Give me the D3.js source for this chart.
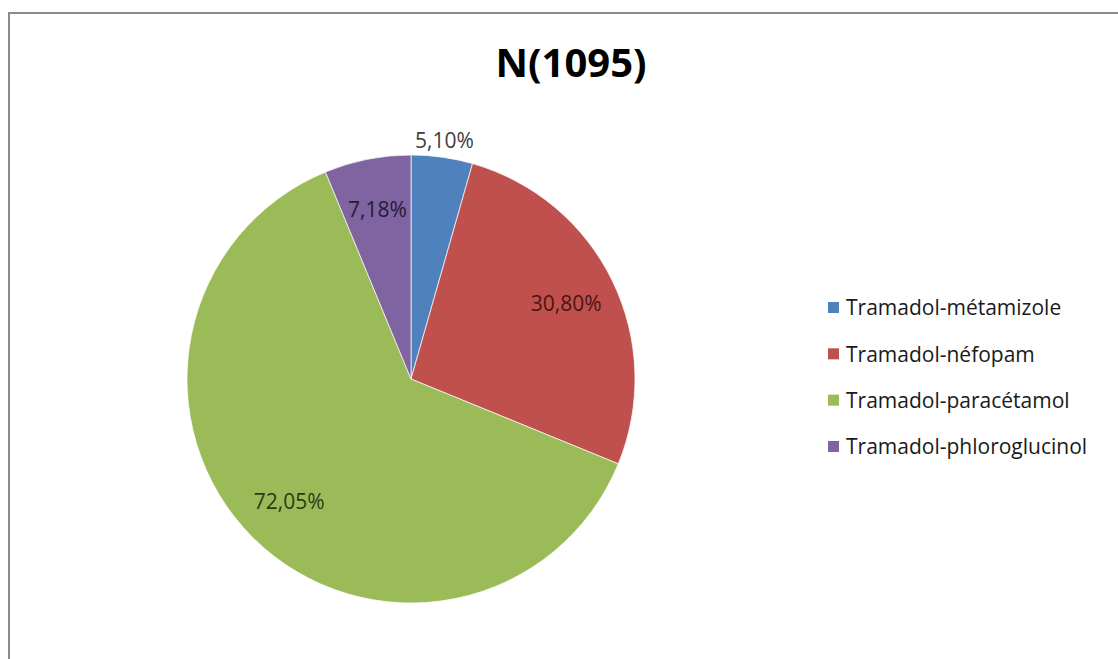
<!DOCTYPE html>
<html>
<head>
<meta charset="utf-8">
<script src="https://cdn.jsdelivr.net/npm/d3@7/dist/d3.min.js"></script>
<style>
  html, body { margin: 0; padding: 0; background: #fff; }
  svg { display: block; }
</style>
</head>
<body>
<svg id="chart" width="1118" height="659"></svg>
<script>
// Analgesic combinations with tramadol
const title = "N(1095)";
const categories = ["Tramadol-métamizole", "Tramadol-néfopam", "Tramadol-paracétamol", "Tramadol-phloroglucinol"];
const values = [5.10, 30.80, 72.05, 7.18];
const valueLabels = ["5,10%", "30,80%", "72,05%", "7,18%"];
const colors = ["#4f81bd", "#c0504d", "#9bbb59", "#8064a2"];
const labelColors = ["#404040", "#4a1513", "#2a3b10", "#261b38"];

const W = 1118, H = 659;
const svg = d3.select("#chart");

// chart frame (runs off the right and bottom edges)
svg.append("rect")
  .attr("x", 9).attr("y", 13)
  .attr("width", W + 20).attr("height", H + 20)
  .attr("fill", "#fff")
  .attr("stroke", "#8c8c8c")
  .attr("stroke-width", 2);

svg.append("text")
  .attr("x", 571).attr("y", 77)
  .attr("text-anchor", "middle")
  .attr("font-family", "'Open Sans', sans-serif")
  .attr("font-weight", "bold")
  .attr("font-size", 40)
  .attr("fill", "#000")
  .text(title);

const cx = 411, cy = 379, radius = 224;
const data = categories.map((c, i) => ({ cat: c, value: values[i], label: valueLabels[i], i }));

const pie = d3.pie().sort(null).value(d => d.value).startAngle(0).endAngle(2 * Math.PI);
const arcs = pie(data);
const arc = d3.arc().innerRadius(0).outerRadius(radius);

const g = svg.append("g").attr("transform", `translate(${cx},${cy})`);

g.selectAll("path.slice")
  .data(arcs)
  .join("path")
  .attr("class", "slice")
  .attr("d", arc)
  .attr("fill", d => colors[d.data.i])
  .attr("stroke", "#ffffff")
  .attr("stroke-opacity", 0.7)
  .attr("stroke-width", 1);

// small slices get their label outside the edge, the rest inside
const insideArc = d3.arc().innerRadius(radius * 0.77).outerRadius(radius * 0.77);
const outsideArc = d3.arc().innerRadius(radius + 17).outerRadius(radius + 17);

g.selectAll("text.val")
  .data(arcs)
  .join("text")
  .attr("class", "val")
  .attr("transform", d => {
    const a = d.data.i === 0 ? outsideArc : insideArc;
    const [x, y] = a.centroid(d);
    return `translate(${x},${y})`;
  })
  .attr("text-anchor", "middle")
  .attr("dy", "0.35em")
  .attr("font-family", "'Open Sans', sans-serif")
  .attr("font-size", 21)
  .attr("fill", d => labelColors[d.data.i])
  .text(d => d.data.label);

// legend
const legendY = d3.scalePoint().domain(categories).range([308, 447]);
const legend = svg.append("g");
const items = legend.selectAll("g.item")
  .data(data)
  .join("g")
  .attr("class", "item")
  .attr("transform", d => `translate(828,${legendY(d.cat)})`);

items.append("rect")
  .attr("x", 0).attr("y", -6)
  .attr("width", 11).attr("height", 11)
  .attr("fill", d => colors[d.i]);

items.append("text")
  .attr("x", 18).attr("y", 0)
  .attr("dy", "0.35em")
  .attr("font-family", "'Open Sans', sans-serif")
  .attr("font-size", 21)
  .attr("fill", "#1a1a1a")
  .text(d => d.cat);
</script>
</body>
</html>
